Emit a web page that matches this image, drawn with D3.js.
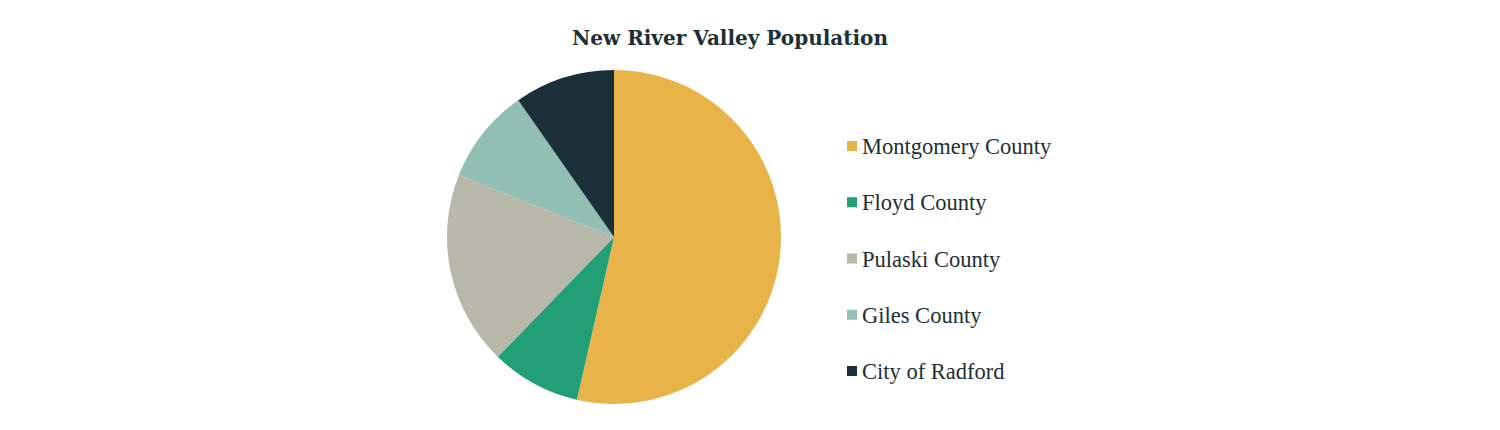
<!DOCTYPE html>
<html>
<head>
<meta charset="utf-8">
<script src="https://cdnjs.cloudflare.com/ajax/libs/d3/7.8.5/d3.min.js"></script>
<style>
  body { margin: 0; background: #fff; }
  .title { font-family: "DejaVu Serif", serif; font-weight: bold; fill: #1b2f36; }
  .legendText { font-family: "Liberation Serif", serif; fill: #1b2f36; }
</style>
</head>
<body>
<svg id="chart"></svg>
<script>
var places = ["Montgomery County", "Floyd County", "Pulaski County", "Giles County", "City of Radford"];
var population = [97000, 15749, 34027, 16720, 17600];
var colors = ["#e8b449", "#229f76", "#b8b8aa", "#91bfb4", "#1a2f37"];

var width = 1500, height = 430;
var svg = d3.select("#chart").attr("width", width).attr("height", height);

svg.append("text").attr("class", "title")
   .attr("x", 730).attr("y", 45)
   .attr("text-anchor", "middle")
   .style("font-size", "20px")
   .text("New River Valley Population");

var radius = 167;
var pieG = svg.append("g").attr("transform", "translate(614,237)");

var pie = d3.pie().sort(null).value(function(d) { return d; });
var arc = d3.arc().innerRadius(0).outerRadius(radius);
var color = d3.scaleOrdinal().domain(places).range(colors);

pieG.selectAll("path")
    .data(pie(population))
    .enter().append("path")
    .attr("d", arc)
    .attr("fill", function(d, i) { return color(places[i]); });

// legend
var legendY = d3.scalePoint().domain(places).range([147, 372]);
var legend = svg.append("g");
var rows = legend.selectAll("g").data(places).enter().append("g")
   .attr("transform", function(d) { return "translate(847," + legendY(d) + ")"; });

rows.append("rect").attr("x", 0).attr("y", -6).attr("width", 10).attr("height", 10)
    .attr("fill", function(d) { return color(d); });

rows.append("text").attr("class", "legendText")
    .attr("x", 15).attr("y", 7)
    .style("font-size", "22.5px")
    .text(function(d) { return d; });
</script>
</body>
</html>
